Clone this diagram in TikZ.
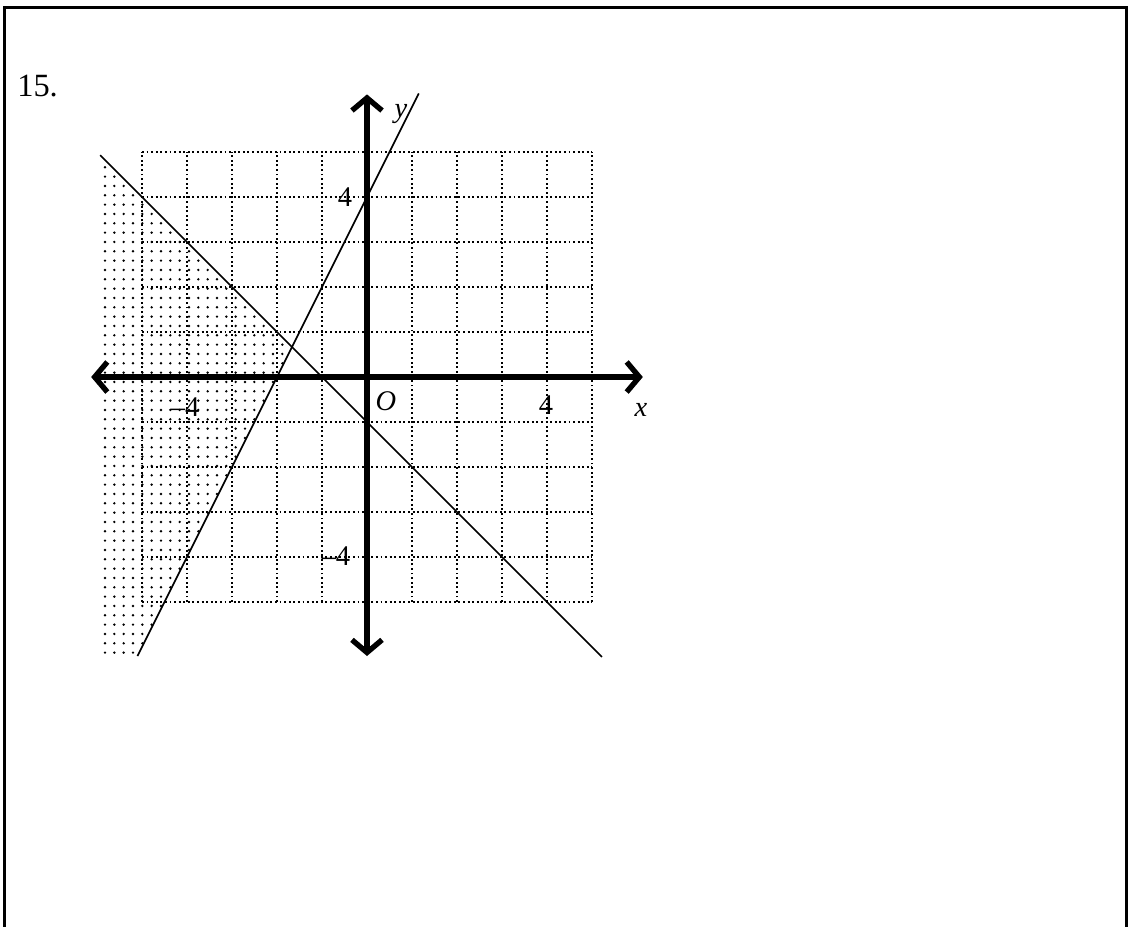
\documentclass[tikz,border=0pt]{standalone}
\usepackage{fontspec}
\setmainfont{Liberation Serif}
\usetikzlibrary{arrows.meta}
\tikzset{
  frameline/.style={line width=2pt, line cap=rect},
  gridline/.style={line width=1.4pt, dash pattern=on 1.2pt off 1.7pt},
  graphline/.style={line width=1.1pt},
  axisline/.style={line width=3.8pt, {Straight Barb[length=8pt,width=19pt,line width=3.4pt]}-{Straight Barb[length=8pt,width=19pt,line width=3.4pt]}},
  shadedot/.style={fill=black},
  lbl/.style={inner sep=0pt, font=\fontsize{18}{20}\selectfont},
  numlbl/.style={inner sep=0pt, font=\fontsize{20.5}{22}\selectfont, anchor=base west}
}
\begin{document}
\begin{tikzpicture}
\useasboundingbox (-8.1556,-12.2) rectangle (16.9111,8.3778);
% frame
\draw[frameline] (-8.056,-12.3) -- (-8.056,8.211) -- (16.89,8.211) -- (16.89,-12.3);
% problem number
\node[numlbl] (num) at (-7.778,6.244) {15.};
% shaded region (dots)
\begin{scope}
  \clip (-5.95,4.95) -- (-5/3,2/3) -- (-5.12,-6.24) -- (-5.95,-6.24) -- cycle;
  \foreach \i in {0,...,21} {
    \foreach \j in {0,...,53} {
      \fill[shadedot] (-5.822+0.2074*\i, 4.66-0.2074*\j) circle (0.03);
    }
  }
\end{scope}
% grid
\draw[gridline] (-5,-5) grid (5,5);
% boundary lines
\coordinate (l1a) at (-5.1,-6.2);
\coordinate (l1b) at (1.15,6.3);
\coordinate (l2a) at (-5.93,4.93);
\coordinate (l2b) at (5.22,-6.22);
\draw[graphline] (l1a) -- (l1b);
\draw[graphline] (l2a) -- (l2b);
% axes
\coordinate (xl) at (-6.13,0);
\coordinate (xr) at (6.13,0);
\coordinate (yt) at (0,6.28);
\coordinate (yb) at (0,-6.2);
\draw[axisline] (xl) -- (xr);
\draw[axisline] (yb) -- (yt);
% labels
\node[lbl] (ly4) at (-0.489,4.0) {4};
\node[lbl] (lym4) at (-0.689,-3.978) {–4};
\node[lbl] (lxm4) at (-4.044,-0.667) {–4};
\node[lbl] (lo) at (0.422,-0.533) {\itshape O};
\node[lbl] (lx4) at (3.978,-0.622) {4};
\node[lbl] (lx) at (6.089,-0.733) {\itshape x};
\node[lbl] (ly) at (0.756,5.85) {\itshape y};
\end{tikzpicture}
\end{document}
